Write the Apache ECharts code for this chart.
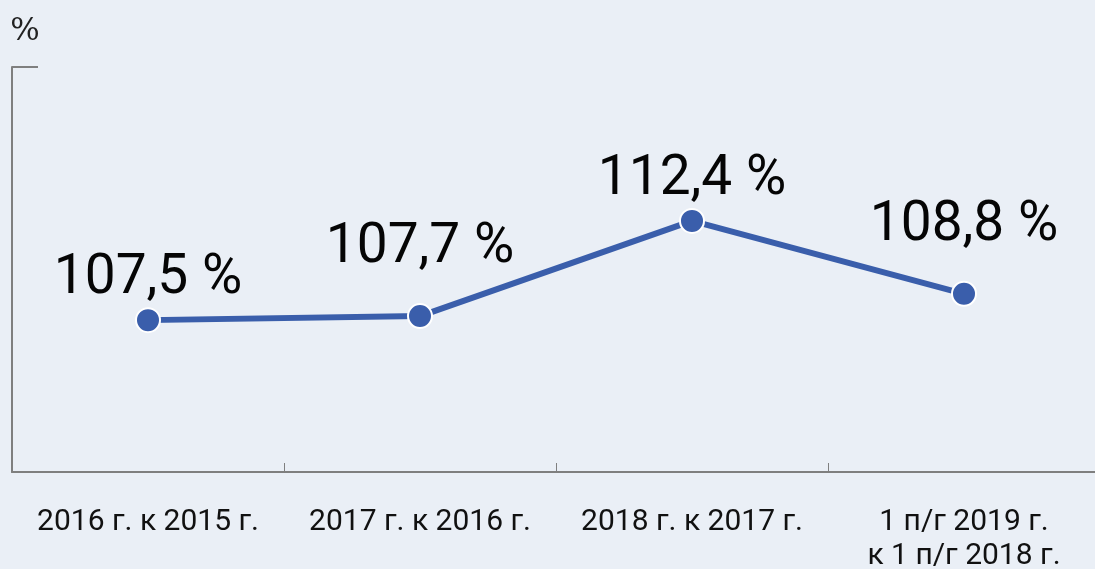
<!DOCTYPE html>
<html>
<head>
<meta charset="utf-8">
<style>
  html, body { margin: 0; padding: 0; background: #eaeff6; }
  #main { width: 1095px; height: 569px; }
</style>
<script src="https://cdn.jsdelivr.net/npm/echarts@6/dist/echarts.min.js"></script>
</head>
<body>
<div id="main"></div>
<script>
// данные
var categories = ['2016 г. к 2015 г.', '2017 г. к 2016 г.', '2018 г. к 2017 г.', '1 п/г 2019 г.\nк 1 п/г 2018 г.'];
var values = [107.5, 107.7, 112.4, 108.8];
var yMin = 100;
var yMax = 120;

// подписи над 2-й и 4-й точкой подняты выше линии
var liftedLabels = [1, 3];

var myChart = echarts.init(document.getElementById('main'));
myChart.setOption({
  backgroundColor: '#eaeff6',
  grid: { left: 12, right: -5, top: 67, bottom: 97, outerBoundsMode: 'none', containLabel: false },
  xAxis: {
    type: 'category',
    data: categories,
    boundaryGap: true,
    axisLine: { lineStyle: { color: '#7f7f7f', width: 2 } },
    axisTick: { show: true, interval: 0, inside: true, length: 9, lineStyle: { color: '#7f7f7f', width: 1 } },
    axisLabel: {
      interval: 0,
      hideOverlap: false,
      margin: 33,
      fontFamily: 'Roboto',
      fontSize: 30,
      lineHeight: 34,
      color: '#111'
    }
  },
  yAxis: {
    type: 'value',
    min: yMin,
    max: yMax,
    interval: 20,
    name: '%',
    nameLocation: 'end',
    nameGap: 20,
    nameTextStyle: { fontFamily: 'DejaVu Serif', fontSize: 31, color: '#222', align: 'center', padding: [0, 0, 0, 26] },
    axisLine: { show: true, lineStyle: { color: '#7f7f7f', width: 2 } },
    axisTick: { show: true, inside: true, length: 26, lineStyle: { color: '#7f7f7f', width: 2 } },
    axisLabel: { show: false },
    splitLine: { show: false }
  },
  series: [{
    type: 'line',
    data: values,
    symbol: 'circle',
    symbolSize: 24,
    lineStyle: { color: '#3a5eab', width: 6 },
    itemStyle: { color: '#3a5eab', borderColor: '#ffffff', borderWidth: 2 },
    label: {
      show: true,
      position: 'top',
      distance: 0,
      fontFamily: 'Roboto',
      fontSize: 55,
      color: '#050505',
      formatter: function (p) { return String(p.value).replace('.', ',') + ' %'; }
    },
    labelLayout: function (p) {
      var dy = liftedLabels.indexOf(p.dataIndex) >= 0 ? -27 : 0;
      return { hideOverlap: false, dy: dy };
    },
    animation: false
  }]
});
</script>
</body>
</html>
